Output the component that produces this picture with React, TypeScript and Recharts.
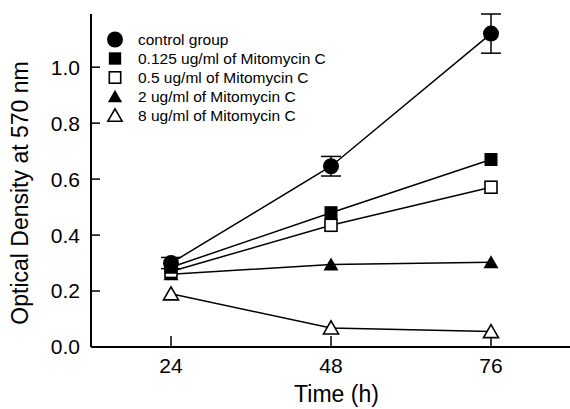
import React from 'react';
import { LineChart, Line, XAxis, YAxis, ErrorBar } from 'recharts';

const times = ['24', '48', '76'];
const controlGroup = [0.3, 0.646, 1.12];
const controlErr = [0.02, 0.035, 0.07];
const mmc0125 = [0.285, 0.48, 0.67];
const mmc05 = [0.27, 0.435, 0.571];
const mmc2 = [0.26, 0.295, 0.303];
const mmc8 = [0.19, 0.068, 0.055];
const yTicks = [0, 0.2, 0.4, 0.6, 0.8, 1.0];

const seriesNames = [
  'control group',
  '0.125 ug/ml of Mitomycin C',
  '0.5 ug/ml of Mitomycin C',
  '2 ug/ml of Mitomycin C',
  '8 ug/ml of Mitomycin C',
];

const data = times.map((t, i) => ({
  time: t,
  control: controlGroup[i],
  controlErr: controlErr[i],
  m0125: mmc0125[i],
  m05: mmc05[i],
  m2: mmc2[i],
  m8: mmc8[i],
}));

const FONT = '"Liberation Sans", Arial, Helvetica, sans-serif';

type Kind = 'circle' | 'fsquare' | 'osquare' | 'ftri' | 'otri';

const Marker = ({ kind, cx, cy, scale = 1 }: { kind: Kind; cx: number; cy: number; scale?: number }) => {
  const s = scale;
  if (kind === 'circle') return <circle cx={cx} cy={cy} r={8 * s} fill="#000" />;
  if (kind === 'fsquare')
    return <rect x={cx - 6.5 * s} y={cy - 6.5 * s} width={13 * s} height={13 * s} fill="#000" />;
  if (kind === 'osquare')
    return (
      <rect x={cx - 6 * s} y={cy - 6 * s} width={12 * s} height={12 * s} fill="#fff" stroke="#000" strokeWidth={1.6} />
    );
  const pts = `${cx - 7.5 * s},${cy + 6 * s} ${cx + 7.5 * s},${cy + 6 * s} ${cx},${cy - 7 * s}`;
  if (kind === 'ftri') return <polygon points={pts} fill="#000" />;
  return <polygon points={pts} fill="#fff" stroke="#000" strokeWidth={1.6} />;
};

const makeDot = (kind: Kind) => (props: any) => {
  const { cx, cy, index } = props;
  if (cx == null || cy == null) return <g key={index} />;
  return <Marker key={index} kind={kind} cx={cx} cy={cy} />;
};

const kinds: Kind[] = ['circle', 'fsquare', 'osquare', 'ftri', 'otri'];

const LegendBox = () => (
  <div
    style={{
      position: 'absolute',
      left: 106,
      top: 30,
      fontFamily: FONT,
      fontSize: 15.5,
      color: '#000',
      lineHeight: '19px',
      pointerEvents: 'none',
    }}
  >
    {seriesNames.map((n, i) => (
      <div key={n} style={{ display: 'flex', alignItems: 'center', height: 19, whiteSpace: 'nowrap' }}>
        <svg width={26} height={19} style={{ marginRight: 6, flex: 'none' }}>
          <Marker kind={kinds[i]} cx={9} cy={9.5} scale={i === 0 ? 1 : 0.95} />
        </svg>
        <span>{n}</span>
      </div>
    ))}
  </div>
);

const YLabel = () => (
  <text
    x={20}
    y={193}
    transform="rotate(-90, 20, 193)"
    textAnchor="middle"
    dominantBaseline="central"
    fontFamily={FONT}
    fontSize={23}
    fill="#000"
  >
    Optical Density at 570 nm
  </text>
);

export default function App() {
  return (
    <div style={{ position: 'absolute', left: 0, top: 0, width: 570, height: 409, background: '#fff' }}>
      <LineChart width={570} height={409} data={data} margin={{ top: 14, right: 0, left: 0, bottom: 0 }}>
        <XAxis
          dataKey="time"
          type="category"
          height={62}
          padding={{ left: 80, right: 79 }}
          axisLine={{ stroke: '#000', strokeWidth: 2 }}
          tickLine={{ stroke: '#000', strokeWidth: 1.5 }}
          tickSize={-11}
          tickMargin={22}
          tick={{ fill: '#000', fontSize: 21, fontFamily: FONT }}
          label={{
            value: 'Time (h)',
            position: 'insideBottom',
            offset: 7,
            dx: 6,
            fill: '#000',
            fontSize: 23,
            fontFamily: FONT,
          }}
        />
        <XAxis
          xAxisId="top"
          dataKey="time"
          orientation="top"
          height={0}
          tick={false}
          tickLine={false}
          axisLine={{ stroke: '#000', strokeWidth: 2 }}
        />
        <YAxis
          width={91}
          domain={[0, 1.19]}
          ticks={yTicks}
          allowDataOverflow
          axisLine={{ stroke: '#000', strokeWidth: 2 }}
          tickLine={{ stroke: '#000', strokeWidth: 1.5 }}
          tickSize={-9}
          tickMargin={20}
          tickFormatter={(v: number) => v.toFixed(1)}
          tick={{ fill: '#000', fontSize: 21, fontFamily: FONT }}
          label={<YLabel />}
        />
        <Line dataKey="m8" name={seriesNames[4]} stroke="#000" strokeWidth={1.5} dot={makeDot('otri')} isAnimationActive={false} />
        <Line dataKey="m2" name={seriesNames[3]} stroke="#000" strokeWidth={1.5} dot={makeDot('ftri')} isAnimationActive={false} />
        <Line dataKey="m05" name={seriesNames[2]} stroke="#000" strokeWidth={1.5} dot={makeDot('osquare')} isAnimationActive={false} />
        <Line dataKey="m0125" name={seriesNames[1]} stroke="#000" strokeWidth={1.5} dot={makeDot('fsquare')} isAnimationActive={false} />
        <Line dataKey="control" name={seriesNames[0]} stroke="#000" strokeWidth={1.5} dot={makeDot('circle')} isAnimationActive={false}>
          <ErrorBar dataKey="controlErr" width={10} stroke="#000" strokeWidth={1.5} direction="y" />
        </Line>
      </LineChart>
      <LegendBox />
    </div>
  );
}
